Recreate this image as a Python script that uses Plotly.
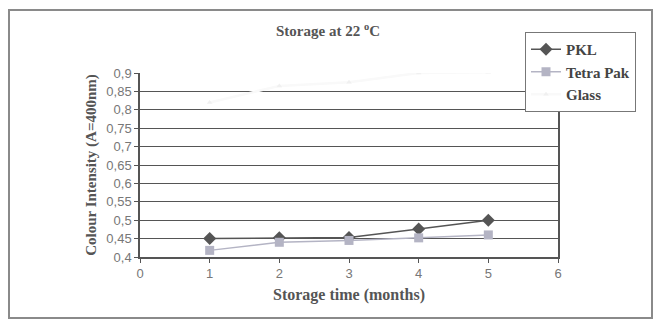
import plotly.graph_objects as go

months = [1, 2, 3, 4, 5]
pkl = [0.450, 0.452, 0.453, 0.476, 0.500]
tetra = [0.418, 0.440, 0.445, 0.452, 0.460]
glass = [0.820, 0.865, 0.875, 0.900, 0.902]

y_ticks = [0.4, 0.45, 0.5, 0.55, 0.6, 0.65, 0.7, 0.75, 0.8, 0.85, 0.9]
y_ticktext = ["0,4", "0,45", "0,5", "0,55", "0,6", "0,65", "0,7", "0,75", "0,8", "0,85", "0,9"]
x_ticks = [0, 1, 2, 3, 4, 5, 6]

serif = "Liberation Serif, Times New Roman, serif"
sans = "Liberation Sans, Arial, sans-serif"

fig = go.Figure()
fig.add_trace(go.Scatter(x=months, y=pkl, name="<b>PKL</b>", mode="lines+markers",
                         line=dict(color="#555555", width=1.5),
                         marker=dict(symbol="diamond", size=10, color="#555555")))
fig.add_trace(go.Scatter(x=months, y=tetra, name="<b>Tetra Pak</b>", mode="lines+markers",
                         line=dict(color="#b4b4c4", width=1.5),
                         marker=dict(symbol="square", size=9, color="#b4b4c4")))
fig.add_trace(go.Scatter(x=months, y=glass, name="<b>Glass</b>", mode="lines+markers",
                         line=dict(color="#f9f9f9", width=2.5),
                         marker=dict(symbol="triangle-up", size=5, color="#f0f0f0")))

L, R, T, B = 140, 101, 73, 66
W, H = 659, 323
pw, ph = W - L - R, H - T - B

def px(xp):
    return (xp - L) / pw

def py(yp):
    return (H - B - yp) / ph

fig.update_layout(
    width=W, height=H,
    margin=dict(l=L, r=R, t=T, b=B),
    paper_bgcolor="white", plot_bgcolor="white",
    showlegend=True,
    legend=dict(x=px(525), y=py(32), xanchor="left", yanchor="top",
                bgcolor="white", bordercolor="#777777", borderwidth=1,
                font=dict(family=serif, size=15, color="#444444"),
                entrywidth=82, tracegroupgap=2),
    shapes=[dict(type="rect", xref="paper", yref="paper",
                 x0=px(9), x1=px(652), y0=py(318), y1=py(10),
                 line=dict(color="#8a8a8a", width=2), layer="below")],
    annotations=[
        dict(text="<b>Storage at 22 <sup>o</sup>C</b>", xref="paper", yref="paper",
             x=px(328), y=py(30), xanchor="center", yanchor="middle", showarrow=False,
             font=dict(family=serif, size=15, color="#555555")),
    ],
)

fig.update_xaxes(range=[0, 6], tickvals=x_ticks, ticks="outside", ticklen=4,
                 tickcolor="#555555", showgrid=False, zeroline=False,
                 showline=True, linecolor="#555555", linewidth=1.5,
                 tickfont=dict(family=sans, size=13, color="#777777"),
                 title=dict(text="<b>Storage time (months)</b>", standoff=8,
                            font=dict(family=serif, size=16, color="#555555")))
fig.update_yaxes(range=[0.4, 0.9], tickvals=y_ticks, ticktext=y_ticktext,
                 ticks="outside", ticklen=4, tickcolor="#555555",
                 showgrid=True, gridcolor="#555555", gridwidth=1, zeroline=False,
                 showline=True, linecolor="#555555", linewidth=1.5, mirror=True,
                 tickfont=dict(family=sans, size=13, color="#777777"),
                 title=dict(text="<b>Colour Intensity (A=400nm)</b>", standoff=6,
                            font=dict(family=serif, size=15, color="#555555")))

fig.write_html("out.html")
